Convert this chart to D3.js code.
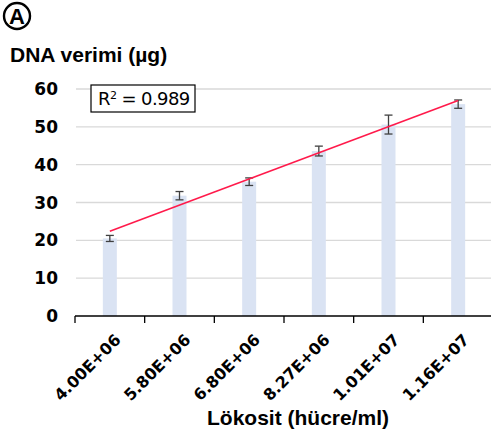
<!DOCTYPE html>
<html>
<head>
<meta charset="utf-8">
<script src="https://cdn.jsdelivr.net/npm/d3@7"></script>
<style>
  body { margin: 0; background: #fff; }
</style>
</head>
<body>
<svg id="chart" width="491" height="435"></svg>
<script>
// values
var categories = ["4.00E+06", "5.80E+06", "6.80E+06", "8.27E+06", "1.01E+07", "1.16E+07"];
var dnaYield = [20.5, 31.8, 35.5, 43.6, 50.6, 56.0];
var yieldErr = [0.8, 1.1, 1.0, 1.3, 2.5, 1.1];
var yTicks = [0, 10, 20, 30, 40, 50, 60];
var r2Label = "0.989";

var margin = {top: 89, right: 0, bottom: 119, left: 75},
    width = 493 - margin.left,
    height = 435 - margin.top - margin.bottom;

var svg = d3.select("#chart");
var g = svg.append("g")
    .attr("transform", "translate(" + margin.left + "," + margin.top + ")");

var x = d3.scaleBand()
    .domain(categories)
    .range([0, width])
    .padding(0);

var y = d3.scaleLinear()
    .domain([0, 60])
    .range([height, 0]);

// gridlines
g.append("g")
    .selectAll("line")
    .data(yTicks.slice(1))
    .enter()
    .append("line")
        .attr("x1", 1)
        .attr("x2", width)
        .attr("y1", function(d) { return y(d); })
        .attr("y2", function(d) { return y(d); })
        .attr("stroke", "#d9d9d9")
        .attr("stroke-width", 1.3);

// y labels (no axis line)
g.append("g")
    .selectAll("text")
    .data(yTicks)
    .enter()
    .append("text")
        .attr("x", -17)
        .attr("y", function(d) { return y(d); })
        .attr("dy", "0.36em")
        .attr("text-anchor", "end")
        .style("font-family", "'DejaVu Sans', sans-serif")
        .style("font-size", "17px")
        .style("font-weight", "600")
        .text(function(d) { return d; });

// bars
var barW = 14;
g.selectAll(".bar")
    .data(dnaYield)
    .enter()
    .append("rect")
        .attr("class", "bar")
        .attr("x", function(d, i) { return x(categories[i]) + x.bandwidth() / 2 - barW / 2; })
        .attr("y", function(d) { return y(d); })
        .attr("width", barW)
        .attr("height", function(d) { return height - y(d); })
        .attr("fill", "#dae3f3");

// x axis with ticks at band edges
var edges = categories.map(function(c) { return x(c); }).concat([width]);
var xAxis = g.append("g").attr("transform", "translate(0," + height + ")");
xAxis.append("line")
    .attr("x1", 0).attr("x2", width)
    .attr("stroke", "#000").attr("stroke-width", 1.3);
xAxis.selectAll(".tick")
    .data(edges)
    .enter()
    .append("line")
        .attr("x1", function(d) { return d; })
        .attr("x2", function(d) { return d; })
        .attr("y1", 0).attr("y2", 7)
        .attr("stroke", "#000").attr("stroke-width", 1.3);

xAxis.selectAll(".lbl")
    .data(categories)
    .enter()
    .append("text")
        .attr("transform", function(d) {
            return "translate(" + (x(d) + x.bandwidth() / 2 + 12) + ",25)rotate(-45)";
        })
        .attr("text-anchor", "end")
        .style("font-family", "'DejaVu Sans', sans-serif")
        .style("font-size", "16px")
        .style("font-weight", "600")
        .text(function(d) { return d; });

// error bars
var eb = g.append("g").attr("stroke", "#404040").attr("stroke-width", 1.3);
dnaYield.forEach(function(v, i) {
    var cx = x(categories[i]) + x.bandwidth() / 2;
    eb.append("line").attr("x1", cx).attr("x2", cx)
        .attr("y1", y(v - yieldErr[i])).attr("y2", y(v + yieldErr[i]));
    [v - yieldErr[i], v + yieldErr[i]].forEach(function(e) {
        eb.append("line").attr("x1", cx - 4).attr("x2", cx + 4)
            .attr("y1", y(e)).attr("y2", y(e));
    });
});

// linear trendline fitted over category index
var xs = dnaYield.map(function(d, i) { return i + 1; });
var mx = d3.mean(xs), my = d3.mean(dnaYield);
var slope = d3.sum(xs, function(xi, i) { return (xi - mx) * (dnaYield[i] - my); }) /
            d3.sum(xs, function(xi) { return (xi - mx) * (xi - mx); });
var icpt = my - slope * mx;
var trend = [1, categories.length].map(function(k) {
    return [x(categories[k - 1]) + x.bandwidth() / 2, y(icpt + slope * k)];
});
g.append("path")
    .attr("d", d3.line()(trend))
    .attr("stroke", "#ff1a4b")
    .attr("stroke-width", 1.6)
    .attr("fill", "none");

// R2 box
var box = g.append("g").attr("transform", "translate(16,-4)");
box.append("rect")
    .attr("width", 104).attr("height", 27)
    .attr("fill", "#fff").attr("stroke", "#000").attr("stroke-width", 1.2);
var rt = box.append("text")
    .attr("x", 7).attr("y", 20)
    .style("font-family", "'DejaVu Sans', sans-serif")
    .style("font-size", "18px")
    .style("letter-spacing", "-0.6px");
rt.append("tspan").text("R");
rt.append("tspan").attr("dy", -6).style("font-size", "11px").text("2");
rt.append("tspan").attr("dy", 6).text(" = " + r2Label);

// titles
svg.append("text")
    .attr("x", 10).attr("y", 62)
    .style("font-family", "'Liberation Sans', Arial, sans-serif")
    .style("font-size", "21px")
    .style("font-weight", "bold")
    .text("DNA verimi (µg)");

svg.append("text")
    .attr("x", 298).attr("y", 425)
    .attr("text-anchor", "middle")
    .style("font-family", "'Liberation Sans', Arial, sans-serif")
    .style("font-size", "21px")
    .style("font-weight", "bold")
    .text("Lökosit (hücre/ml)");

// panel marker
svg.append("circle")
    .attr("cx", 17).attr("cy", 16).attr("r", 13)
    .attr("fill", "none").attr("stroke", "#000").attr("stroke-width", 2.4);
svg.append("text")
    .attr("x", 17).attr("y", 24)
    .attr("text-anchor", "middle")
    .style("font-family", "'Liberation Sans', Arial, sans-serif")
    .style("font-size", "22px")
    .style("font-weight", "bold")
    .text("A");
</script>
</body>
</html>
